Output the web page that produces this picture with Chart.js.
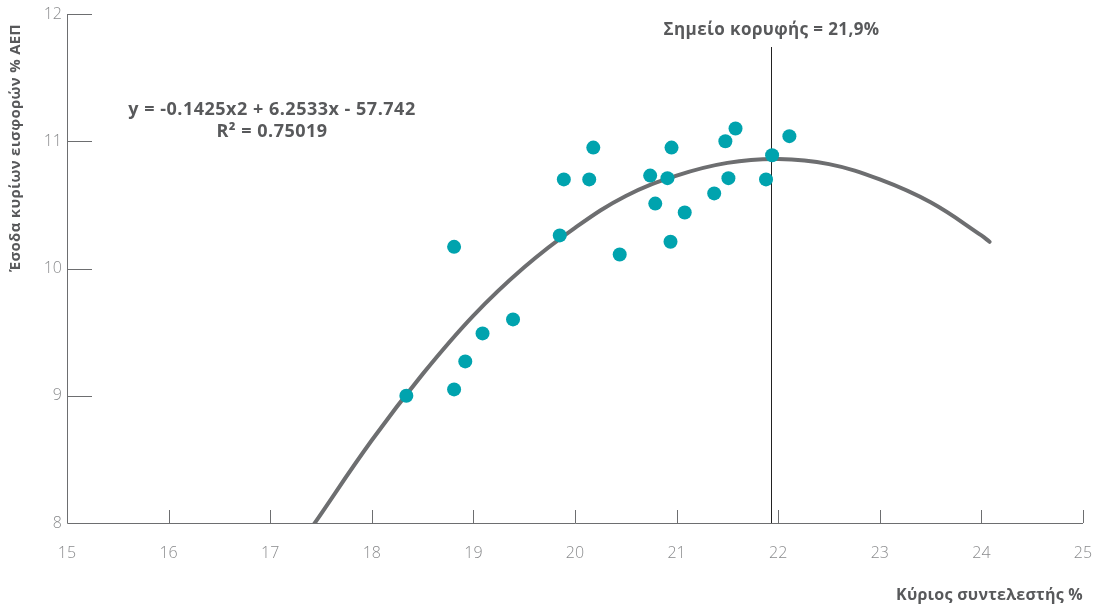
<!DOCTYPE html>
<html>
<head>
<meta charset="utf-8">
<script src="https://cdn.jsdelivr.net/npm/chart.js@4/dist/chart.umd.min.js"></script>
<style>
  html, body { margin: 0; padding: 0; background: #fff; }
  #wrap { width: 1096px; height: 607px; position: relative; }
</style>
</head>
<body>
<div id="wrap"><canvas id="chart"></canvas></div>
<script>
// observed points (main rate %, revenue % GDP)
const rateValues = [18.34, 18.81, 18.81, 18.92, 19.09, 19.39, 19.85, 19.89, 20.14, 20.18, 20.44, 20.74,
  20.79, 20.91, 20.95, 20.94, 21.08, 21.37, 21.48, 21.51, 21.58, 21.88, 21.94, 22.11]
const revenueValues = [9.00, 10.17, 9.05, 9.27, 9.49, 9.60, 10.26, 10.70, 10.70, 10.95, 10.11, 10.73,
  10.51, 10.71, 10.95, 10.21, 10.44, 10.59, 11.00, 10.71, 11.10, 10.70, 10.89, 11.04]

// trend line
const trendX = [17.43, 18, 18.5, 19, 19.5, 20, 20.5, 21, 21.5, 22, 22.5, 23, 23.5, 24, 24.08]
const trendY = [7.99, 8.65, 9.17, 9.63, 10.01, 10.32, 10.57, 10.73, 10.83, 10.86, 10.82, 10.70, 10.52, 10.26, 10.21]

const peakRate = 21.93
const xTicks = [15, 16, 17, 18, 19, 20, 21, 22, 23, 24, 25]
const yTicks = [8, 9, 10, 11, 12]

const peakLabel = 'Σημείο κορυφής = 21,9%'
const equationLines = ['y = -0.1425x2 + 6.2533x - 57.742', 'R² = 0.75019']
const xTitle = 'Κύριος συντελεστής %'
const yTitle = 'Έσοδα κυρίων εισφορών % ΑΕΠ'

const axisColor = '#6d6e70'
const textColor = '#58595b'
const tickColor = '#8a8b8d'
const dotColor = '#00a3ae'
const fontFamily = '"Open Sans", Lato, sans-serif'

const scatterData = rateValues.map((x, i) => ({ x: x, y: revenueValues[i] }))
const trendData = trendX.map((x, i) => ({ x: x, y: trendY[i] }))

// short inside ticks, axis lines, peak line and annotations
const decorPlugin = {
  id: 'decor',
  beforeDatasetsDraw(chart) {
    const ctx = chart.ctx
    const xs = chart.scales.x, ys = chart.scales.y
    const area = chart.chartArea
    ctx.save()
    ctx.strokeStyle = axisColor
    ctx.lineWidth = 1
    ctx.beginPath()
    ctx.moveTo(area.left + 0.5, ys.getPixelForValue(12))
    ctx.lineTo(area.left + 0.5, area.bottom + 0.5)
    ctx.lineTo(area.right, area.bottom + 0.5)
    xTicks.slice(1).forEach(v => {
      const px = Math.round(xs.getPixelForValue(v)) + 0.5
      ctx.moveTo(px, area.bottom)
      ctx.lineTo(px, area.bottom - 13)
    })
    yTicks.slice(1).forEach(v => {
      const py = Math.round(ys.getPixelForValue(v)) + 0.5
      ctx.moveTo(area.left, py)
      ctx.lineTo(area.left + 25, py)
    })
    ctx.stroke()

    // peak line
    const peakX = Math.round(xs.getPixelForValue(peakRate)) + 0.5
    ctx.strokeStyle = '#222'
    ctx.beginPath()
    ctx.moveTo(peakX, 47)
    ctx.lineTo(peakX, area.bottom)
    ctx.stroke()

    ctx.fillStyle = textColor
    ctx.textAlign = 'center'
    ctx.textBaseline = 'middle'
    ctx.font = 'bold 17px ' + fontFamily
    ctx.letterSpacing = '0.4px'
    ctx.fillText(peakLabel, peakX, 30)
    ctx.font = 'bold 18px ' + fontFamily
    ctx.letterSpacing = '0.5px'
    ctx.fillText(equationLines[0], 272, 110)
    ctx.fillText(equationLines[1], 272, 132)

    ctx.textAlign = 'right'
    ctx.font = 'bold 16px ' + fontFamily
    ctx.letterSpacing = '0.25px'
    ctx.fillText(xTitle, 1083, 595)

    ctx.translate(16, 148)
    ctx.rotate(-Math.PI / 2)
    ctx.textAlign = 'center'
    ctx.font = 'bold 15px ' + fontFamily
    ctx.letterSpacing = '0.3px'
    ctx.fillText(yTitle, 0, 0)
    ctx.restore()
  }
}

Chart.defaults.font.family = fontFamily

new Chart(document.getElementById('chart'), {
  type: 'scatter',
  data: {
    datasets: [
      {
        data: scatterData,
        backgroundColor: dotColor,
        borderWidth: 0,
        pointRadius: 7,
        pointHoverRadius: 7,
        order: 0
      },
      {
        data: trendData,
        showLine: true,
        borderColor: axisColor,
        borderWidth: 4,
        borderCapStyle: 'round',
        pointRadius: 0,
        tension: 0.4,
        fill: false,
        order: 1
      }
    ]
  },
  options: {
    responsive: true,
    maintainAspectRatio: false,
    animation: false,
    layout: { padding: { left: 0, top: 14, right: 13, bottom: 0 } },
    plugins: {
      legend: { display: false },
      tooltip: { enabled: false }
    },
    scales: {
      x: {
        type: 'linear',
        min: 15,
        max: 25,
        border: { display: false },
        grid: { display: false, drawTicks: false },
        afterBuildTicks: s => { s.ticks = xTicks.map(v => ({ value: v })) },
        afterFit: s => { s.height = 84; s.paddingRight = 0; s.paddingLeft = 0 },
        ticks: { color: tickColor, font: { size: 16, weight: '300' }, padding: 21 }
      },
      y: {
        min: 8,
        max: 12,
        border: { display: false },
        grid: { display: false, drawTicks: false },
        afterBuildTicks: s => { s.ticks = yTicks.map(v => ({ value: v })) },
        afterFit: s => { s.width = 67; s.paddingTop = 0; s.paddingBottom = 0 },
        ticks: { color: tickColor, font: { size: 16, weight: '300' }, padding: 5 }
      }
    }
  },
  plugins: [decorPlugin]
})
</script>
</body>
</html>
